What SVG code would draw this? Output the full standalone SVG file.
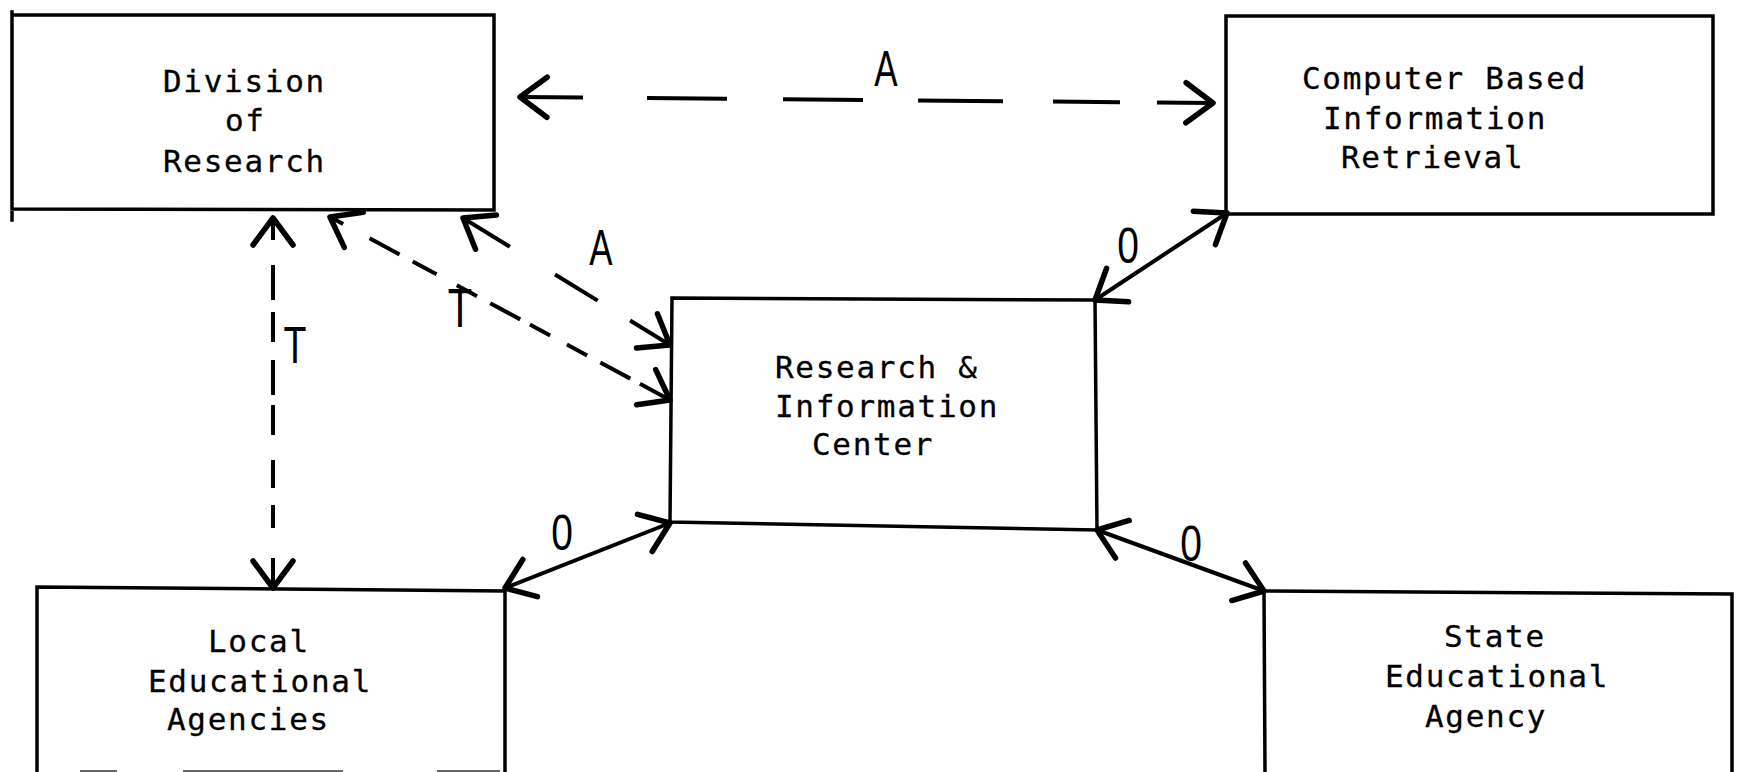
<svg xmlns="http://www.w3.org/2000/svg" width="1745" height="772" viewBox="0 0 1745 772">
  <style>
    .box { fill: none; stroke: #000; stroke-width: 3.5; stroke-linecap: square; }
    .txt { font-family: "DejaVu Sans Mono", "Liberation Mono", monospace; font-size: 31px; letter-spacing: 1.7px; fill: #000; stroke: #000; stroke-width: 0.3; }
    .lbl { font-family: "Liberation Sans", Arial, sans-serif; font-size: 50px; fill: #000; text-anchor: middle; }
    .solid { fill: none; stroke: #000; stroke-width: 4; stroke-linecap: round; marker-start: url(#head); marker-end: url(#head); }
    .dash { fill: none; stroke: #000; stroke-width: 4; stroke-linecap: butt; marker-start: url(#head); marker-end: url(#head); }
    .cut { stroke: #666; stroke-width: 2; }
  </style>
  <defs>
    <marker id="head" markerUnits="userSpaceOnUse" markerWidth="80" markerHeight="80" viewBox="-40 -40 80 80" refX="0" refY="0" orient="auto-start-reverse" overflow="visible">
      <path d="M-27,-20 L0,0 L-27,20" fill="none" stroke="#000" stroke-width="5.5" stroke-linecap="round" stroke-linejoin="round"/>
    </marker>
  </defs>
  <rect width="1745" height="772" fill="#fff"/>

  <g id="division-of-research">
    <path class="box" d="M12,15 L494,15 M12,12 L12,220 M494,15 L494,209 M12,209 L494,210"/>
    <text class="txt" x="163" y="92">Division</text>
    <text class="txt" x="225" y="131">of</text>
    <text class="txt" x="163" y="172">Research</text>
  </g>

  <g id="computer-based-retrieval">
    <path class="box" d="M1226,16 L1713,16 M1226,16 L1226,214 M1713,16 L1713,214 M1226,214 L1713,214"/>
    <text class="txt" x="1302" y="89">Computer Based</text>
    <text class="txt" x="1323" y="129">Information</text>
    <text class="txt" x="1341" y="168">Retrieval</text>
  </g>

  <g id="research-information-center">
    <path class="box" d="M672,298 L1095,300 L1097,530 L670,522 Z"/>
    <text class="txt" x="775" y="378">Research &amp;</text>
    <text class="txt" x="775" y="417">Information</text>
    <text class="txt" x="812" y="455">Center</text>
  </g>

  <g id="local-educational-agencies">
    <path class="box" d="M37,772 L37,587 L505,591 L505,772"/>
    <text class="txt" x="208" y="652">Local</text>
    <text class="txt" x="148" y="692">Educational</text>
    <text class="txt" x="167" y="730">Agencies</text>
    <path class="cut" d="M80,771 H117 M183,771 H343 M437,771 H500"/>
  </g>

  <g id="state-educational-agency">
    <path class="box" d="M1265,772 L1264,591 L1732,594 L1732,772"/>
    <text class="txt" x="1444" y="647">State</text>
    <text class="txt" x="1385" y="687">Educational</text>
    <text class="txt" x="1425" y="727">Agency</text>
  </g>

  <g id="connectors">
    <!-- administrative link between the two upper offices -->
    <path class="dash" stroke-width="5" stroke-dasharray="63 64 80 56 80 55 85 50 67 37 60" d="M520,97 L1213,103"/>
    <!-- technical links -->
    <path class="dash" stroke-width="3.5" stroke-dasharray="22 25 35 12 30 18 35 10 30 25 28 17 23 30 30" d="M273,218 L273,588"/>
    <path class="dash" stroke-width="3.5" stroke-dasharray="15 30 34 15 27 23 23 15 34 11 23 19 23 15 34 11 34" d="M330,217 L670,400"/>
    <!-- administrative link to the center -->
    <path class="dash" stroke-width="3.5" stroke-dasharray="55 53 50 38 47" d="M463,218 L670,345"/>
    <!-- operational links -->
    <path class="solid" d="M1095,300 L1227,213"/>
    <path class="solid" d="M670,523 L505,588"/>
    <path class="solid" d="M1097,530 L1264,591"/>

    <text class="lbl" transform="translate(886,86) scale(0.7,1)">A</text>
    <text class="lbl" transform="translate(601,265) scale(0.7,1)">A</text>
    <text class="lbl" transform="translate(460,327) scale(0.8,1.1)">T</text>
    <text class="lbl" transform="translate(295,363) scale(0.75,1.02)">T</text>
    <text class="lbl" transform="translate(1128,263) scale(0.78,1)">0</text>
    <text class="lbl" transform="translate(562,550) scale(0.78,1)">0</text>
    <text class="lbl" transform="translate(1191,561) scale(0.78,1)">0</text>
  </g>
</svg>
